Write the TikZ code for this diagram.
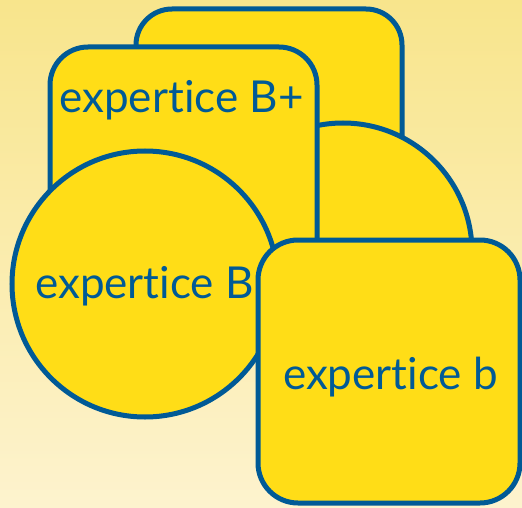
\documentclass[tikz,border=0pt]{standalone}
\usepackage{fontspec}
\setmainfont{Lato}[Ligatures=NoCommon]
\definecolor{cardfill}{HTML}{FFDD17}
\definecolor{cardline}{HTML}{005A96}
\definecolor{bgtop}{HTML}{F8E58C}
\definecolor{bgbottom}{HTML}{FDF3CE}
\tikzset{card/.style={draw=cardline,fill=cardfill,line width=5pt},
  lbl/.style={text=cardline,font=\fontsize{44}{44}\selectfont,inner sep=0pt,anchor=base}}

\begin{document}
\begin{tikzpicture}[x=1pt,y=-1pt]
\shade[top color=bgtop,bottom color=bgbottom] (0,0) rectangle (522,508);
\useasboundingbox (0,0) rectangle (522,508);
% back cards
\draw[card,rounded corners=36pt] (136,9) rectangle (402,300);
\draw[card] (343,252) circle [radius=129pt];
\draw[card,rounded corners=38pt] (50,47) rectangle (317,320);
\draw[card] (145,284) circle [radius=133pt];
\draw[card,rounded corners=40pt] (258,240) rectangle (520,503);
% labels
\node[lbl] (bplus) at (181.5,113) {expertice B+};
\node[lbl] (bmid) at (144.5,298) {expertice B};
\node[lbl] (bsmall) at (390.5,389) {expertice b};
\end{tikzpicture}
\end{document}
